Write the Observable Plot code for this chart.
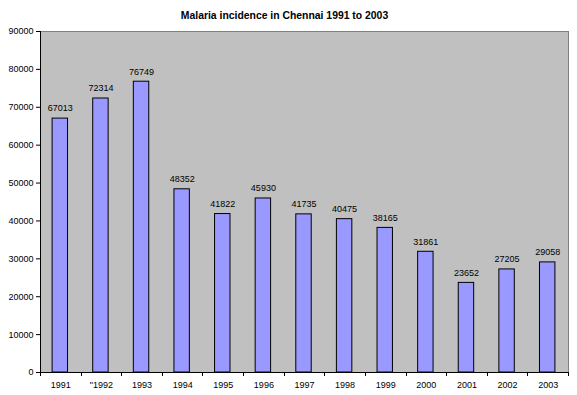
<!DOCTYPE html>
<html>
<head>
<meta charset="utf-8">
<script src="https://cdn.jsdelivr.net/npm/d3@7"></script>
<script src="https://cdn.jsdelivr.net/npm/@observablehq/plot@0.6"></script>
<style>
  html, body { margin: 0; padding: 0; background: #fff; }
  #chart svg { display: block; }
</style>
</head>
<body>
<div id="chart"></div>
<script>
const years = ["1991", "\"1992", "1993", "1994", "1995", "1996", "1997", "1998", "1999", "2000", "2001", "2002", "2003"];
const cases = [67013, 72314, 76749, 48352, 41822, 45930, 41735, 40475, 38165, 31861, 23652, 27205, 29058];
const yTicks = [0, 10000, 20000, 30000, 40000, 50000, 60000, 70000, 80000, 90000];
const title = "Malaria incidence in Chennai 1991 to 2003";

const data = years.map((y, i) => ({year: y, value: cases[i]}));

const chart = Plot.plot({
  width: 577,
  height: 395,
  marginTop: 31,
  marginLeft: 40,
  marginRight: 9,
  marginBottom: 23,
  style: {fontFamily: "Liberation Sans, Arial, sans-serif", fontSize: "9px", background: "#fff", overflow: "visible"},
  x: {domain: years, paddingInner: 0.62, paddingOuter: 0.31, align: 0.5, round: false, label: null},
  y: {domain: [0, 90000], label: null},
  marks: [
    Plot.frame({fill: "#C0C0C0", stroke: "#808080", strokeWidth: 1}),
    Plot.barY(data, {x: "year", y: "value", fill: "#9999FF", stroke: "#000", strokeWidth: 1, dx: -0.5}),
    Plot.text(data, {x: "year", y: "value", text: d => String(d.value), dy: -10, dx: -0.5, fill: "#000", fontSize: 9}),
    Plot.axisX({tickSize: 0, tickPadding: 9, fontSize: 9}),
    Plot.axisY({ticks: yTicks, tickFormat: d => String(d), tickSize: 4, tickPadding: 3, fontSize: 9}),
    Plot.ruleY([0], {stroke: "#000"}),
    Plot.text([title], {frameAnchor: "top", dy: -20, dx: -20, fontWeight: "bold", fontSize: 10.4, fill: "#000"})
  ]
});
document.getElementById("chart").append(chart);
const svg = d3.select(chart);
const xs = chart.scale("x");
const yScale = chart.scale("y");
const y0 = yScale.apply(0);
const y90 = yScale.apply(90000);
// left axis line
svg.append("line").attr("x1", 40.5).attr("x2", 40.5).attr("y1", y90).attr("y2", y0).attr("stroke", "#000");
// x-axis ticks at band boundaries
const step = xs.step;
const bounds = years.map(y => xs.apply(y) - (step - xs.bandwidth) / 2);
bounds.push(xs.apply(years[years.length - 1]) + xs.bandwidth + (step - xs.bandwidth) / 2);
svg.append("g").selectAll("line").data(bounds).join("line")
  .attr("x1", d => Math.round(d) + 0.5).attr("x2", d => Math.round(d) + 0.5)
  .attr("y1", y0).attr("y2", y0 + 4).attr("stroke", "#000");
</script>
</body>
</html>
